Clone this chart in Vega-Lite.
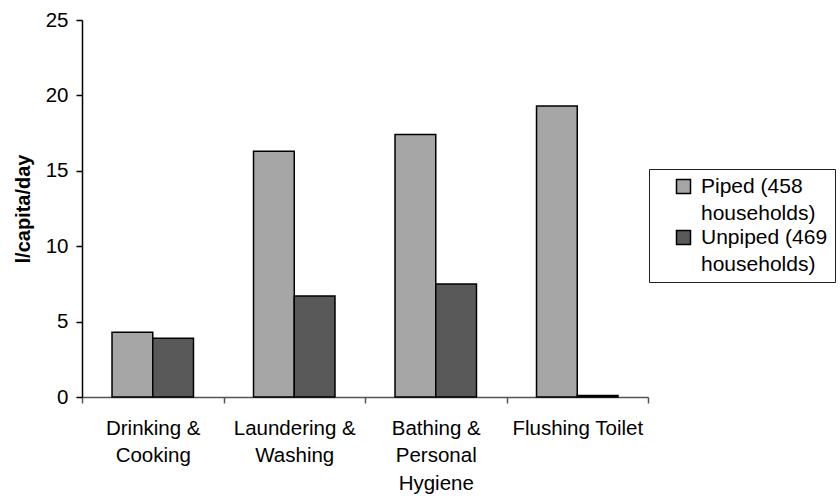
{
  "$schema": "https://vega.github.io/schema/vega-lite/v6.json",
  "width": 566,
  "height": 377,
  "autosize": "none",
  "padding": {"left": 82, "top": 20, "right": 192, "bottom": 99},
  "background": "white",
  "config": {
    "font": "Liberation Sans",
    "view": {"stroke": null},
    "style": {"guide-label": {"lineHeight": 27}}
  },
  "data": {
    "values": [
      {"use": "Drinking & Cooking", "group": "Piped (458 households)", "value": 4.3},
      {"use": "Drinking & Cooking", "group": "Unpiped (469 households)", "value": 3.9},
      {"use": "Laundering & Washing", "group": "Piped (458 households)", "value": 16.3},
      {"use": "Laundering & Washing", "group": "Unpiped (469 households)", "value": 6.7},
      {"use": "Bathing & Personal Hygiene", "group": "Piped (458 households)", "value": 17.4},
      {"use": "Bathing & Personal Hygiene", "group": "Unpiped (469 households)", "value": 7.5},
      {"use": "Flushing Toilet", "group": "Piped (458 households)", "value": 19.3},
      {"use": "Flushing Toilet", "group": "Unpiped (469 households)", "value": 0.1}
    ]
  },
  "mark": {"type": "bar", "stroke": "black", "strokeWidth": 1.5},
  "encoding": {
    "x": {
      "field": "use",
      "type": "nominal",
      "sort": null,
      "scale": {"paddingInner": 0, "paddingOuter": 0},
      "axis": {
        "title": null,
        "labelAngle": 0,
        "tickBand": "extent",
        "labelFontSize": 20.5,
        "labelColor": "black",
        "labelPadding": 15,
        "labelLimit": 200,
        "labelLineHeight": 27.5,
        "labelExpr": "split(replace(datum.label, regexp('(&|Personal) ', 'g'), '$1|'), '|')",
        "domainColor": "#555555",
        "domainWidth": 1.5,
        "tickColor": "#555555",
        "tickWidth": 1.5,
        "tickSize": 6
      }
    },
    "xOffset": {
      "field": "group",
      "type": "nominal",
      "scale": {"paddingInner": 0, "paddingOuter": 0.737}
    },
    "y": {
      "field": "value",
      "type": "quantitative",
      "scale": {"domain": [0, 25], "nice": false},
      "axis": {
        "title": "l/capita/day",
        "titleFontSize": 20,
        "titleFontWeight": "bold",
        "titleColor": "black",
        "titlePadding": 12,
        "values": [0, 5, 10, 15, 20, 25],
        "grid": false,
        "labelFontSize": 20.5,
        "labelColor": "black",
        "labelPadding": 8,
        "domainColor": "black",
        "domainWidth": 1.5,
        "tickColor": "black",
        "tickWidth": 1.5,
        "tickSize": 6
      }
    },
    "fill": {
      "field": "group",
      "type": "nominal",
      "scale": {
        "domain": ["Piped (458 households)", "Unpiped (469 households)"],
        "range": ["#a6a6a6", "#595959"]
      },
      "legend": {
        "title": null,
        "orient": "none",
        "legendX": 567,
        "legendY": 149,
        "strokeColor": "#222222",
        "fillColor": "white",
        "padding": 7,
        "symbolOffset": 17,
        "symbolType": "square",
        "symbolSize": 196,
        "symbolStrokeColor": "black",
        "symbolStrokeWidth": 1.5,
        "symbolOpacity": 1,
        "labelFontSize": 21,
        "labelColor": "black",
        "labelOffset": 7,
        "labelLimit": 300,
        "rowPadding": 2,
        "labelExpr": "split(replace(datum.label, ' households', '|households'), '|')"
      }
    }
  }
}
